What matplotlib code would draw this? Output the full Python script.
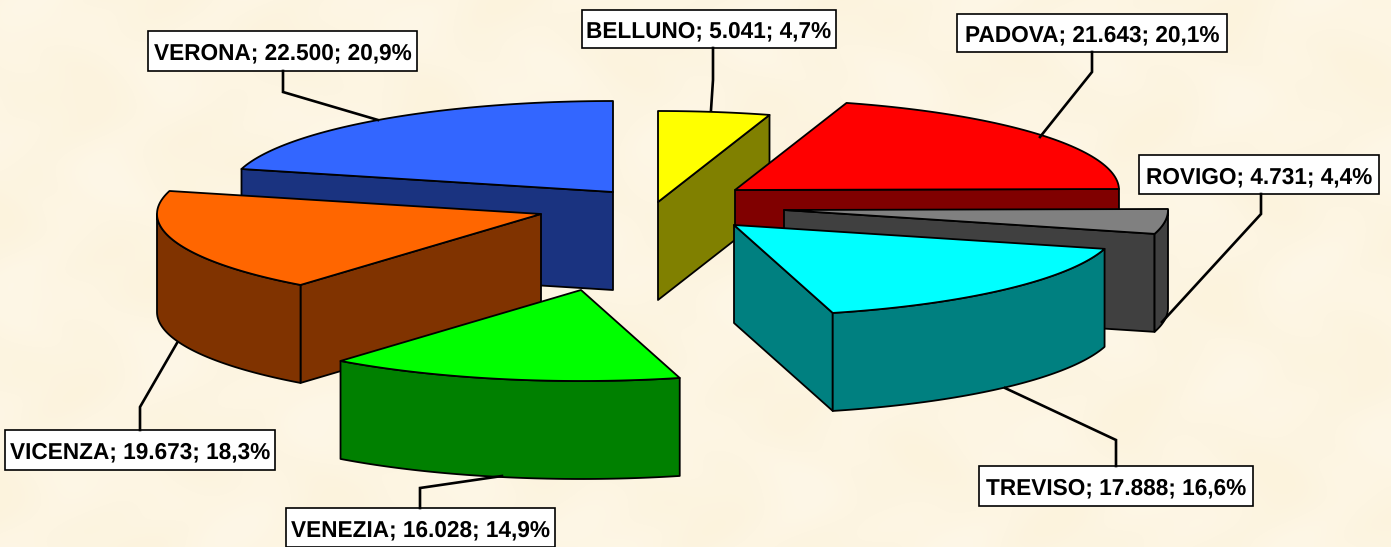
"""3D exploded pie of the Veneto provinces, drawn as polygons on a pixel-sized axes."""
import numpy as np
import matplotlib
matplotlib.use("Agg")
import matplotlib.pyplot as plt
from matplotlib.patches import Polygon, Rectangle

provinces = ["BELLUNO", "PADOVA", "ROVIGO", "TREVISO", "VENEZIA", "VICENZA", "VERONA"]
values = [5041, 21643, 4731, 17888, 16028, 19673, 22500]

top_colors = ["#FFFF00", "#FF0000", "#808080", "#00FFFF", "#00FF00", "#FF6600", "#3366FF"]
side_colors = ["#808000", "#800000", "#404040", "#008080", "#008000", "#803300", "#1A3380"]

# layout, in pixels of the 1391x547 picture
RX, RY, DEPTH = 384, 91, 98
apex = [(658, 202), (735, 190), (784, 210), (734, 225), (581, 290), (541, 214), (613, 192)]
draw_order = [6, 5, 4, 0, 1, 2, 3]  # back to front
boxes = [(582, 10, 836, 48), (957, 14, 1227, 52), (1139, 155, 1379, 194),
         (979, 466, 1253, 506), (286, 508, 555, 547), (5, 430, 275, 470),
         (148, 31, 417, 71)]
leaders = [[(713, 48), (713, 80), (711, 110)],
           [(1092, 52), (1092, 72), (1040, 137)],
           [(1261, 194), (1261, 214), (1162, 322)],
           [(1116, 466), (1116, 440), (1005, 388)],
           [(420, 508), (420, 488), (502, 476)],
           [(140, 430), (140, 407), (177, 343)],
           [(283, 71), (283, 92), (378, 120)]]


def rim(cx, cy, start, end, drop=0, n=60):
    t = np.radians(np.linspace(start, end, n))
    return np.column_stack([cx + RX * np.sin(t), cy - RY * np.cos(t) + drop])


def faces_front(normal_deg):
    return np.cos(np.radians(normal_deg)) < -1e-6


def draw_slice(ax, cx, cy, start, end, top, side):
    edge = dict(ec="black", lw=1.3, joinstyle="round")
    # radial walls, only the ones turned to the viewer
    for ang, normal in [(start, start - 90), (end, end + 90)]:
        if faces_front(normal):
            p = rim(cx, cy, ang, ang, n=1)[0]
            quad = [(cx, cy), p, (p[0], p[1] + DEPTH), (cx, cy + DEPTH)]
            ax.add_patch(Polygon(quad, fc=side, **edge))
    # outer wall, front half of the rim
    a, b = max(start, 90), min(end, 270)
    if b > a:
        upper = rim(cx, cy, a, b)
        lower = rim(cx, cy, a, b, drop=DEPTH)[::-1]
        ax.add_patch(Polygon(np.vstack([upper, lower]), fc=side, **edge))
    face = np.vstack([[(cx, cy)], rim(cx, cy, start, end)])
    ax.add_patch(Polygon(face, fc=top, **edge))


def fmt_label(name, v, total):
    pct = f"{100 * v / total:.1f}".replace(".", ",")
    return f"{name}; {v:,}".replace(",", ".") + f"; {pct}%"


def main():
    plt.rcParams["font.family"] = ["Liberation Sans", "DejaVu Sans"]
    plt.rcParams["text.hinting"] = "none"
    fig = plt.figure(figsize=(13.91, 5.47), dpi=100)
    ax = fig.add_axes([0, 0, 1, 1])
    ax.axis("off")

    # parchment backdrop: soft blotches from a few overlaid waves
    yy, xx = np.mgrid[0:547, 0:1391]
    blot = (np.sin(xx / 29 + yy / 43) + np.sin(xx / 53 - yy / 23 + 1.3)
            + np.sin(xx / 17 + np.sin(yy / 21) * 2) * 0.6) / 2.6
    base = np.array([253, 245, 226]) / 255
    tint = np.array([1, 2, 5]) / 255
    ax.imshow(base + blot[..., None] * tint, extent=(0, 1391, 547, 0),
              aspect="auto", zorder=0)
    ax.set_xlim(0, 1391)
    ax.set_ylim(547, 0)

    total = sum(values)
    ends = np.cumsum(values) / total * 360
    starts = np.concatenate([[0], ends[:-1]])

    for line in leaders:
        xs, ys = zip(*line)
        ax.plot(xs, ys, color="black", lw=1.9, solid_joinstyle="miter")

    for i in draw_order:
        draw_slice(ax, *apex[i], starts[i], ends[i], top_colors[i], side_colors[i])

    for name, v, (x0, y0, x1, y1) in zip(provinces, values, boxes):
        ax.add_patch(Rectangle((x0, y0), x1 - x0, y1 - y0, fc="white", ec="black", lw=1.2))
        ax.text((x0 + x1) / 2, (y0 + y1) / 2 + 0.5, fmt_label(name, v, total), ha="center",
                va="center_baseline", fontsize=16.3, fontweight="bold", color="black")

    fig.savefig("out.png", dpi=100)


if __name__ == "__main__":
    main()
